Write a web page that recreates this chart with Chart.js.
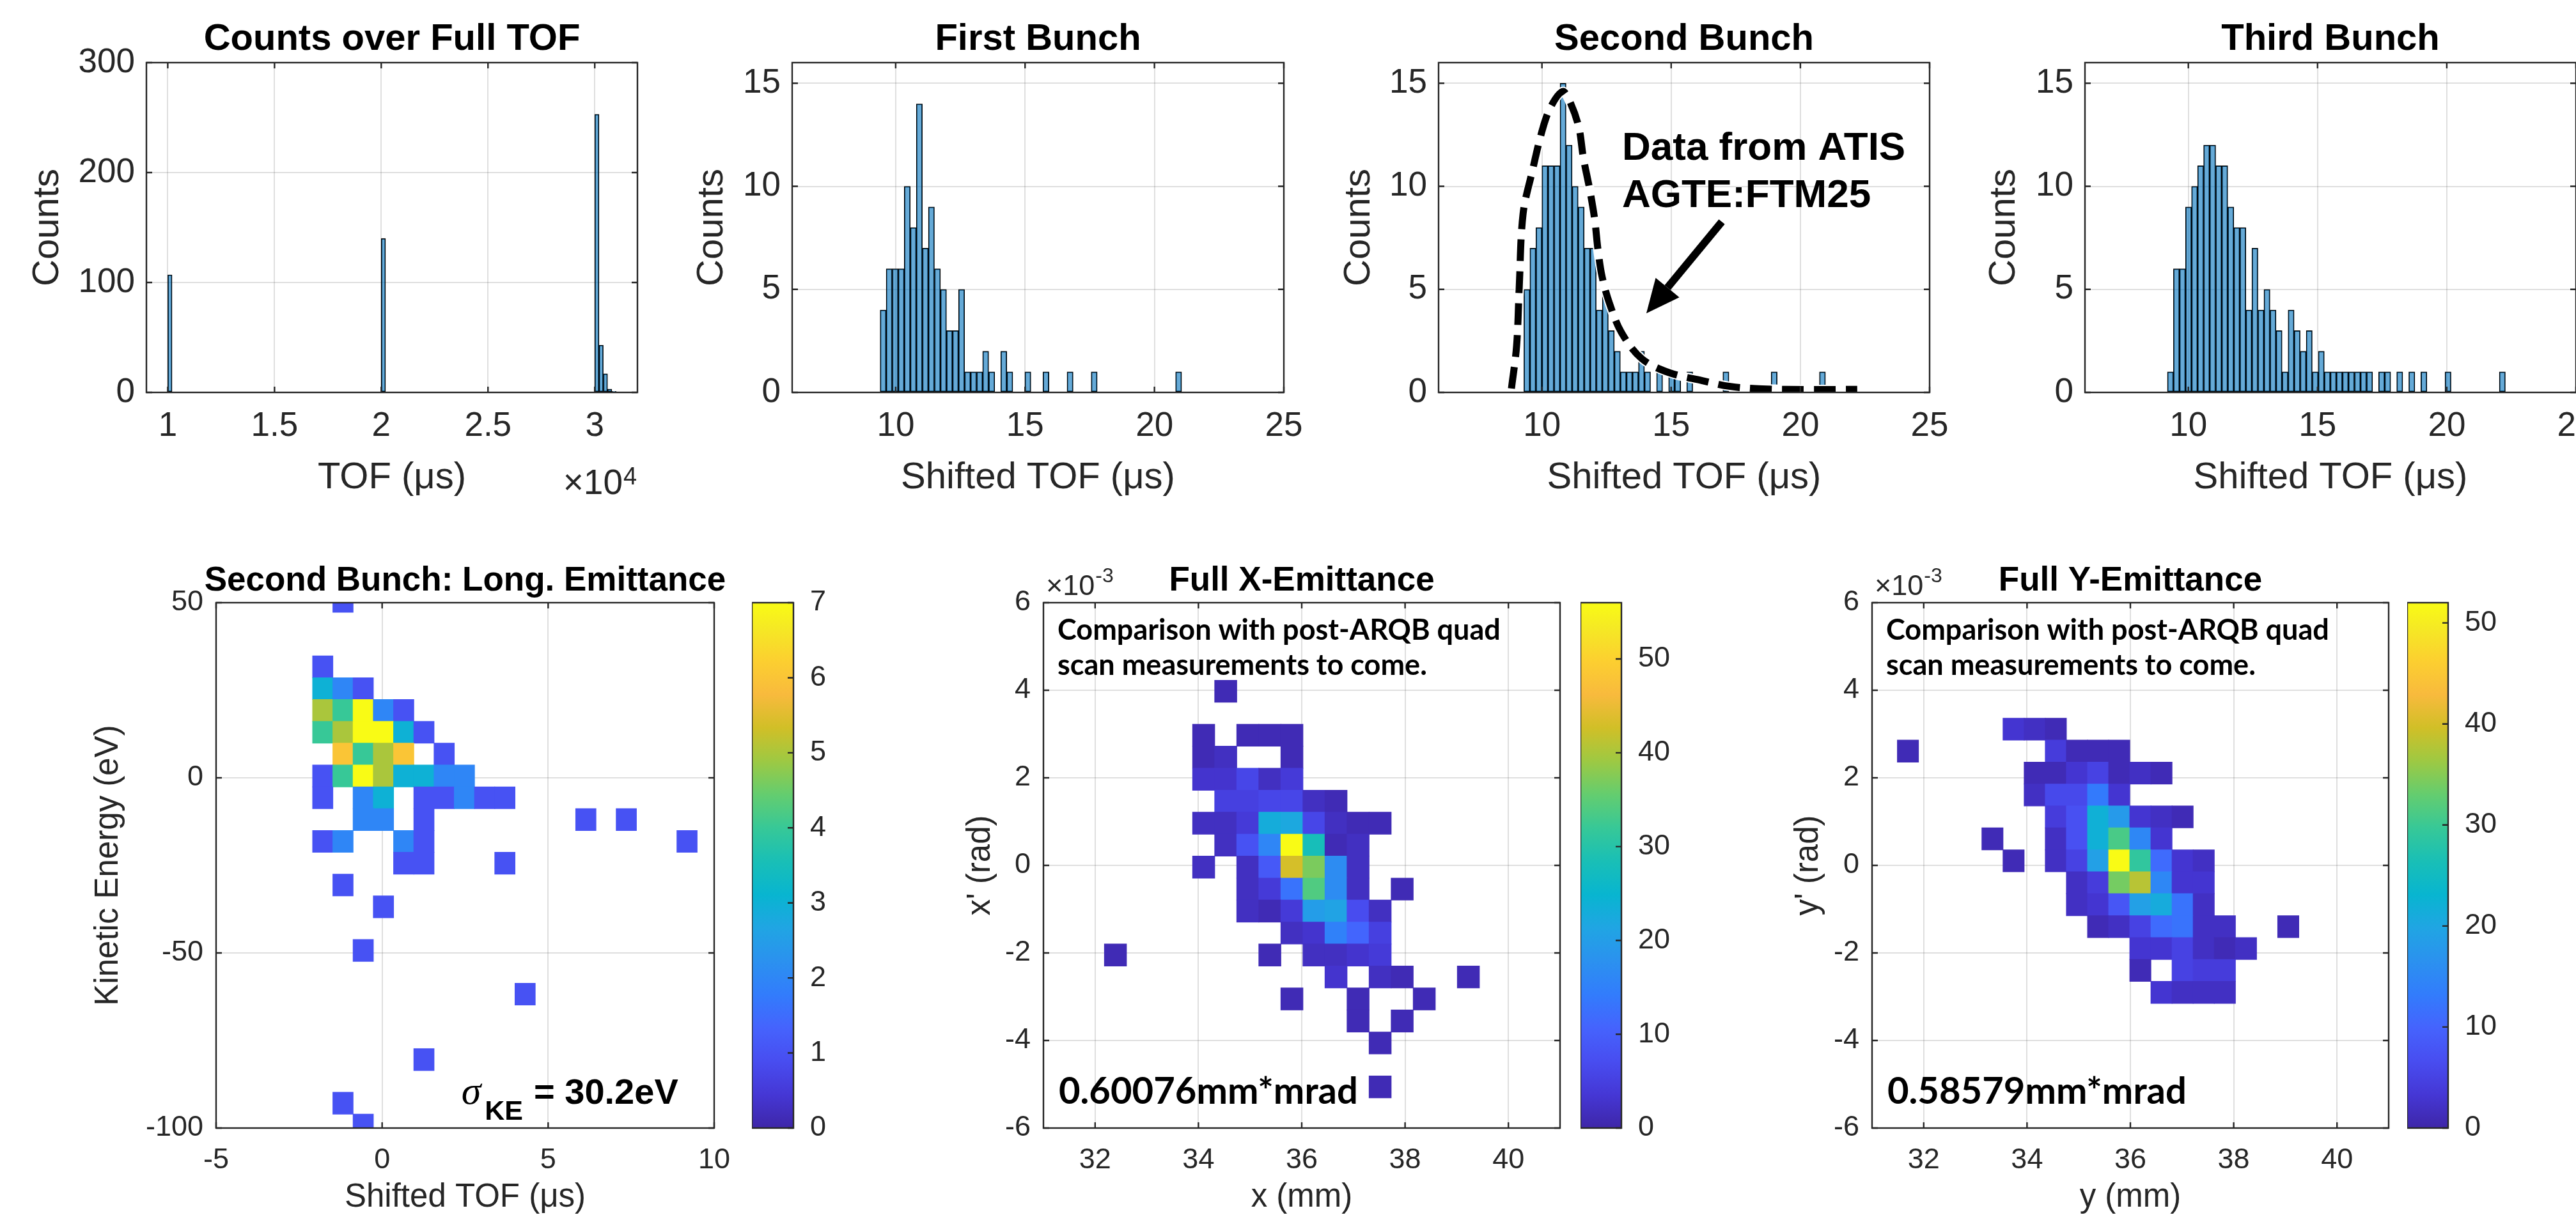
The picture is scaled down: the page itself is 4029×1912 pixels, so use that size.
<!DOCTYPE html>
<html>
<head>
<meta charset="utf-8">
<title>TOF bunches and emittance</title>
<script src="https://cdn.jsdelivr.net/npm/chart.js@4.4.1/dist/chart.umd.min.js"></script>
<style>
  html, body { margin: 0; padding: 0; background: #fff; overflow: hidden; }
  body { position: relative; width: 4029px; height: 1912px; }
  canvas { position: absolute; }
</style>
</head>
<body>
<script>
// ---------- data ----------

// Counts over full TOF (bin centres in µs, 200 µs bins)
const fullTofBins = [10100, 20100, 30100, 30300, 30500, 30700, 30900];
const fullTofCounts = [107, 140, 253, 43, 17, 3, 1];
const fullTofTicks = [10000, 15000, 20000, 25000, 30000];
const fullCountTicks = [0, 100, 200, 300];

// bunch histograms: first bin edge + bin width (µs), counts per bin
const firstBunchStart = 9.40, firstBunchWidth = 0.233;
const firstBunchCounts = [4, 6, 6, 6, 10, 8, 14, 7, 9, 6, 5, 3, 3, 5, 1, 1, 1, 2, 1, 0,
  2, 1, 0, 0, 1, 0, 0, 1, 0, 0, 0, 1, 0, 0, 0, 1, 0, 0, 0, 0, 0, 0, 0, 0, 0, 0, 0, 0, 0, 1];
const secondBunchStart = 9.30, secondBunchWidth = 0.2334;
const secondBunchCounts = [5, 7, 8, 11, 11, 11, 15, 12, 10, 9, 7, 7, 4, 5, 3, 2, 1, 1, 1, 2,
  1, 0, 1, 0, 1, 1, 0, 1, 0, 0, 0, 0, 0, 1, 0, 0, 0, 0, 0, 0, 0, 1, 0, 0, 0, 0, 0, 0, 0, 1];
const thirdBunchStart = 9.19, thirdBunchWidth = 0.2335;
const thirdBunchCounts = [1, 6, 6, 9, 10, 11, 12, 12, 11, 11, 9, 8, 8, 4, 7, 4, 5, 4, 3, 1,
  4, 3, 2, 3, 1, 2, 1, 1, 1, 1, 1, 1, 1, 1, 0, 1, 1, 0, 1, 0, 1, 0, 1, 0, 0, 0, 1, 0, 0, 0,
  0, 0, 0, 0, 0, 1];
const bunchTofTicks = [10, 15, 20, 25];
const bunchCountTicks = [0, 5, 10, 15];

// ATIS AGTE:FTM25 reference profile overlaid on the second bunch
const atisCurveX = [8.82, 9.02, 9.12, 9.27, 9.62, 10.03, 10.36, 10.80, 11.05, 11.42, 11.60, 11.84,
  12.04, 12.17, 12.33, 12.62, 13.08, 13.86, 14.90, 16.18, 17.29, 18.53, 20.40, 22.20];
const atisCurveY = [0.19, 2.27, 5.07, 8.66, 10.7, 12.8, 13.9, 14.6, 14.2, 12.9, 11.4, 9.9,
  8.4, 6.9, 5.6, 4.3, 2.9, 1.64, 0.97, 0.58, 0.29, 0.17, 0.14, 0.15];

// longitudinal emittance, rows from top (KE high) to bottom, columns left to right
const longTof0 = -2.093, longTofStep = 0.6095;
const longKeTop = 53.49, longKeStep = 6.23;
const longEmitCounts = [
  [0,1,0,0,0,0,0,0,0,0,0,0,0,0,0,0,0,0,0,0],
  [0,0,0,0,0,0,0,0,0,0,0,0,0,0,0,0,0,0,0,0],
  [0,0,0,0,0,0,0,0,0,0,0,0,0,0,0,0,0,0,0,0],
  [1,0,0,0,0,0,0,0,0,0,0,0,0,0,0,0,0,0,0,0],
  [3,2,1,0,0,0,0,0,0,0,0,0,0,0,0,0,0,0,0,0],
  [5,4,7,2,1,0,0,0,0,0,0,0,0,0,0,0,0,0,0,0],
  [4,5,7,7,3,1,0,0,0,0,0,0,0,0,0,0,0,0,0,0],
  [0,6,4,5,6,0,1,0,0,0,0,0,0,0,0,0,0,0,0,0],
  [1,4,7,5,3,3,2,2,0,0,0,0,0,0,0,0,0,0,0,0],
  [1,0,2,3,0,1,1,2,1,1,0,0,0,0,0,0,0,0,0,0],
  [0,0,2,2,0,1,0,0,0,0,0,0,0,1,0,1,0,0,0,0],
  [1,2,0,0,2,1,0,0,0,0,0,0,0,0,0,0,0,0,1,0],
  [0,0,0,0,1,1,0,0,0,1,0,0,0,0,0,0,0,0,0,0],
  [0,1,0,0,0,0,0,0,0,0,0,0,0,0,0,0,0,0,0,0],
  [0,0,0,1,0,0,0,0,0,0,0,0,0,0,0,0,0,0,0,0],
  [0,0,0,0,0,0,0,0,0,0,0,0,0,0,0,0,0,0,0,0],
  [0,0,1,0,0,0,0,0,0,0,0,0,0,0,0,0,0,0,0,0],
  [0,0,0,0,0,0,0,0,0,0,0,0,0,0,0,0,0,0,0,0],
  [0,0,0,0,0,0,0,0,0,0,1,0,0,0,0,0,0,0,0,0],
  [0,0,0,0,0,0,0,0,0,0,0,0,0,0,0,0,0,0,0,0],
  [0,0,0,0,0,0,0,0,0,0,0,0,0,0,0,0,0,0,0,0],
  [0,0,0,0,0,1,0,0,0,0,0,0,0,0,0,0,0,0,0,0],
  [0,0,0,0,0,0,0,0,0,0,0,0,0,0,0,0,0,0,0,0],
  [0,1,0,0,0,0,0,0,0,0,0,0,0,0,0,0,0,0,0,0],
  [0,0,1,0,0,0,0,0,0,0,0,0,0,0,0,0,0,0,0,0]
];
const longTofTicks = [-5, 0, 5, 10];
const longKeTicks = [-100, -50, 0, 50];
const longColorTicks = [0, 1, 2, 3, 4, 5, 6, 7];

// full x emittance (x in mm, x' in 1e-3 rad)
const xEmitX0 = 32.18, xEmitXStep = 0.427;
const xEmitTop = 4.227, xEmitStep = 0.502;
const xEmitCounts = [
  [0,0,0,0,0,1,0,0,0,0,0,0,0,0,0,0,0,0],
  [0,0,0,0,0,0,0,0,0,0,0,0,0,0,0,0,0,0],
  [0,0,0,0,1,0,1,1,1,0,0,0,0,0,0,0,0,0],
  [0,0,0,0,1,2,0,0,1,0,0,0,0,0,0,0,0,0],
  [0,0,0,0,3,3,6,2,4,0,0,0,0,0,0,0,0,0],
  [0,0,0,0,0,5,5,6,6,2,1,0,0,0,0,0,0,0],
  [0,0,0,0,2,2,4,23,22,6,2,1,1,0,0,0,0,0],
  [0,0,0,0,0,2,8,16,56,28,1,2,0,0,0,0,0,0],
  [0,0,0,0,2,0,2,9,43,37,17,2,0,0,0,0,0,0],
  [0,0,0,0,0,0,2,4,13,34,17,2,0,1,0,0,0,0],
  [0,0,0,0,0,0,2,1,4,20,21,7,2,0,0,0,0,0],
  [0,0,0,0,0,0,0,0,2,3,15,11,5,0,0,0,0,0],
  [1,0,0,0,0,0,0,1,0,2,2,3,4,0,0,0,0,0],
  [0,0,0,0,0,0,0,0,0,0,3,0,2,1,0,0,1,0],
  [0,0,0,0,0,0,0,0,1,0,0,1,0,0,1,0,0,0],
  [0,0,0,0,0,0,0,0,0,0,0,1,0,1,0,0,0,0],
  [0,0,0,0,0,0,0,0,0,0,0,0,1,0,0,0,0,0],
  [0,0,0,0,0,0,0,0,0,0,0,0,0,0,0,0,0,0],
  [0,0,0,0,0,0,0,0,0,0,0,0,1,0,0,0,0,0]
];

// full y emittance (y in mm, y' in 1e-3 rad)
const yEmitX0 = 31.49, yEmitXStep = 0.409;
const yEmitTop = 3.361, yEmitStep = 0.501;
const yEmitCounts = [
  [0,0,0,0,0,3,2,1,0,0,0,0,0,0,0,0,0,0,0],
  [1,0,0,0,0,0,0,4,1,1,1,0,0,0,0,0,0,0,0],
  [0,0,0,0,0,0,1,1,3,5,1,2,1,0,0,0,0,0,0],
  [0,0,0,0,0,0,2,6,6,13,3,0,0,0,0,0,0,0,0],
  [0,0,0,0,0,0,0,4,7,22,18,3,2,1,0,0,0,0,0],
  [0,0,0,0,1,0,0,2,7,22,31,15,3,0,0,0,0,0,0],
  [0,0,0,0,0,1,0,2,5,19,52,29,11,3,2,0,0,0,0],
  [0,0,0,0,0,0,0,0,2,4,34,38,15,3,3,0,0,0,0],
  [0,0,0,0,0,0,0,0,2,3,8,19,21,12,2,0,0,0,0],
  [0,0,0,0,0,0,0,0,0,1,2,5,11,12,2,2,0,0,1],
  [0,0,0,0,0,0,0,0,0,0,0,3,3,5,2,1,2,0,0],
  [0,0,0,0,0,0,0,0,0,0,0,1,0,5,4,4,0,0,0],
  [0,0,0,0,0,0,0,0,0,0,0,0,3,2,2,2,0,0,0]
];
const emitPosTicks = [32, 34, 36, 38, 40];
const emitAngleTicks = [-6, -4, -2, 0, 2, 4, 6];
const emitColorTicks = [0, 10, 20, 30, 40, 50];

// ---------- look ----------
const FONT = "'Liberation Sans', Arial, Helvetica, sans-serif";
const NOTE_FONT = "Lato, 'Open Sans', sans-serif";
const INK = '#262626';
const GRID = 'rgba(38,38,38,0.15)';
const BAR_FILL = 'rgba(0,114,189,0.6)';

// parula colormap stops
const PARULA = [
  [0.000, 62, 38, 168], [0.0635, 69, 55, 213], [0.127, 72, 77, 240], [0.1905, 69, 99, 253],
  [0.254, 50, 124, 252], [0.3175, 43, 145, 239], [0.381, 32, 165, 227], [0.4444, 8, 181, 208],
  [0.508, 25, 191, 182], [0.5714, 55, 200, 151], [0.635, 100, 205, 111], [0.698, 157, 201, 67],
  [0.762, 209, 191, 39], [0.825, 248, 186, 61], [0.889, 252, 207, 48], [0.952, 245, 233, 36],
  [1.000, 249, 251, 21]
];

function parula(t) {
  t = Math.max(0, Math.min(1, t));
  for (let i = 1; i < PARULA.length; i++) {
    const a = PARULA[i - 1], b = PARULA[i];
    if (t <= b[0]) {
      const f = (t - a[0]) / (b[0] - a[0]);
      const c = [1, 2, 3].map(k => Math.round(a[k] + (b[k] - a[k]) * f));
      return `rgb(${c[0]},${c[1]},${c[2]})`;
    }
  }
  return 'rgb(249,251,21)';
}

const TOP = { canvasTop: 0, canvasBottom: 800, t: 98, b: 614, titleSize: 58, titleY: 62,
  tickSize: 53, labelSize: 58, xLabelY: 748, xTickGap: 27, yTickGap: 18 };
const BOTTOM = { canvasTop: 840, canvasBottom: 1912, t: 943, b: 1765, titleSize: 53, titleY: 909,
  tickSize: 45, labelSize: 51, xLabelY: 1874, xTickGap: 28, yTickGap: 20 };

// ---------- helpers ----------
function place(left, top, width, height) {
  const c = document.createElement('canvas');
  c.width = width; c.height = height;
  c.style.left = left + 'px'; c.style.top = top + 'px';
  c.style.width = width + 'px'; c.style.height = height + 'px';
  document.body.appendChild(c);
  return c;
}

function fixedTicks(values) {
  return scale => { scale.ticks = values.map(v => ({ value: v })); };
}

// MATLAB style box with inward ticks
function matlabBox(colorbarOnly) {
  return {
    id: 'matlabBox',
    afterDatasetsDraw(chart) {
      const { ctx, chartArea: a, scales } = chart;
      const tl = 9;
      ctx.save();
      ctx.strokeStyle = INK;
      ctx.lineWidth = 2.4;
      ctx.beginPath();
      if (!colorbarOnly) {
        scales.x.ticks.forEach(t => {
          const px = scales.x.getPixelForValue(t.value);
          ctx.moveTo(px, a.bottom); ctx.lineTo(px, a.bottom - tl);
          ctx.moveTo(px, a.top); ctx.lineTo(px, a.top + tl);
        });
      }
      scales.y.ticks.forEach(t => {
        const py = scales.y.getPixelForValue(t.value);
        if (!colorbarOnly) { ctx.moveTo(a.left, py); ctx.lineTo(a.left + tl, py); }
        ctx.moveTo(a.right, py); ctx.lineTo(a.right - tl, py);
      });
      ctx.stroke();
      ctx.strokeRect(a.left, a.top, a.right - a.left, a.bottom - a.top);
      ctx.restore();
    }
  };
}

function histogram(centers, counts) {
  return {
    type: 'bar',
    data: counts.map((c, i) => ({ x: centers[i], y: c })),
    backgroundColor: BAR_FILL,
    borderColor: '#000',
    borderWidth: 1.3,
    borderSkipped: false,
    barPercentage: 1,
    categoryPercentage: 1,
    order: 2
  };
}

function binCenters(start, width, counts) {
  return counts.map((_, i) => start + (i + 0.5) * width);
}

function heatmap(counts, x0, dx, yTop, dy) {
  const vmax = Math.max(...counts.flat());
  const data = [], colors = [];
  counts.forEach((row, j) => row.forEach((c, i) => {
    if (!c) return;
    data.push({ x: x0 + (i + 0.5) * dx, y: [yTop - (j + 1) * dy, yTop - j * dy] });
    colors.push(parula(c / vmax));
  }));
  return {
    type: 'bar', data, backgroundColor: colors, borderWidth: 0,
    inflateAmount: 0.5, barPercentage: 1, categoryPercentage: 1
  };
}

function drawTitle(chart, row, text) {
  const { ctx, chartArea: a } = chart;
  ctx.save();
  ctx.font = `bold ${row.titleSize}px ${FONT}`;
  ctx.fillStyle = '#000';
  ctx.textAlign = 'center';
  ctx.textBaseline = 'middle';
  ctx.fillText(text, (a.left + a.right) / 2, row.titleY - row.canvasTop);
  ctx.restore();
}

function panel(row, l, r, yLabelX, cfg) {
  const leftW = 200, rightW = 80;
  const canvas = place(l - leftW, row.canvasTop, leftW + (r - l) + rightW, row.canvasBottom - row.canvasTop);
  const tickFont = { family: FONT, size: row.tickSize, lineHeight: 1 };
  const labelFont = { family: FONT, size: row.labelSize, lineHeight: 1 };
  const grid = { color: GRID, lineWidth: 2, drawTicks: false, offset: false };
  return new Chart(canvas, {
    type: 'bar',
    data: { datasets: cfg.datasets },
    options: {
      responsive: false,
      animation: false,
      devicePixelRatio: 1,
      layout: { padding: { left: 0, top: row.t - row.canvasTop, right: rightW, bottom: 0 } },
      plugins: { legend: { display: false }, tooltip: { enabled: false }, title: { display: false } },
      scales: {
        x: {
          type: 'linear', min: cfg.x[0], max: cfg.x[1], offset: false,
          afterBuildTicks: fixedTicks(cfg.xTicks),
          afterFit: s => { s.height = row.canvasBottom - row.b; },
          grid, border: { display: false },
          ticks: { font: tickFont, color: INK, padding: row.xTickGap, maxRotation: 0, autoSkip: false,
            callback: cfg.xFormat || (v => String(v)) },
          title: { display: true, text: cfg.xLabel, color: INK, font: labelFont,
            padding: { top: 0, bottom: row.canvasBottom - row.xLabelY - row.labelSize / 2 } }
        },
        y: {
          type: 'linear', min: cfg.y[0], max: cfg.y[1],
          afterBuildTicks: fixedTicks(cfg.yTicks),
          afterFit: s => { s.width = leftW; },
          grid, border: { display: false },
          ticks: { font: tickFont, color: INK, padding: row.yTickGap, autoSkip: false, callback: v => String(v) },
          title: { display: true, text: cfg.yLabel, color: INK, font: labelFont,
            padding: { top: yLabelX - (l - leftW) - row.labelSize / 2, bottom: 0 } }
        }
      }
    },
    plugins: [matlabBox(false), {
      id: 'notes',
      afterDraw(chart) {
        drawTitle(chart, row, cfg.title);
        if (cfg.notes) cfg.notes(chart);
      }
    }]
  });
}

function colorbar(l, r, ticks, max) {
  const padV = 60, axisW = 110;
  const canvas = place(l, BOTTOM.t - padV, r - l + axisW, BOTTOM.b - BOTTOM.t + 2 * padV);
  new Chart(canvas, {
    type: 'bar',
    data: {
      labels: [''],
      datasets: [{
        data: [max],
        backgroundColor: c => {
          const a = c.chart.chartArea;
          if (!a) return null;
          const g = c.chart.ctx.createLinearGradient(0, a.bottom, 0, a.top);
          PARULA.forEach(s => g.addColorStop(s[0], `rgb(${s[1]},${s[2]},${s[3]})`));
          return g;
        },
        borderWidth: 0, barPercentage: 1, categoryPercentage: 1
      }]
    },
    options: {
      responsive: false, animation: false, devicePixelRatio: 1,
      layout: { padding: { top: padV, bottom: padV, left: 0, right: 0 } },
      plugins: { legend: { display: false }, tooltip: { enabled: false } },
      scales: {
        x: { display: false },
        y: {
          position: 'right', min: 0, max,
          afterBuildTicks: fixedTicks(ticks),
          afterFit: s => { s.width = axisW; },
          grid: { display: false }, border: { display: false },
          ticks: { font: { family: FONT, size: BOTTOM.tickSize, lineHeight: 1 }, color: INK, padding: 18,
            autoSkip: false, callback: v => String(v) }
        }
      }
    },
    plugins: [matlabBox(true)]
  });
}

function arrow(ctx, x0, y0, x1, y1) {
  const ang = Math.atan2(y1 - y0, x1 - x0), head = 52, half = 24;
  const bx = x1 - head * Math.cos(ang), by = y1 - head * Math.sin(ang);
  ctx.strokeStyle = '#000'; ctx.fillStyle = '#000';
  ctx.lineWidth = 12;
  ctx.beginPath(); ctx.moveTo(x0, y0); ctx.lineTo(bx, by); ctx.stroke();
  ctx.beginPath();
  ctx.moveTo(x1, y1);
  ctx.lineTo(bx + half * Math.sin(ang), by - half * Math.cos(ang));
  ctx.lineTo(bx - half * Math.sin(ang), by + half * Math.cos(ang));
  ctx.closePath(); ctx.fill();
}

function fitSize(ctx, str, family, target) {
  ctx.font = `bold 50px ${family}`;
  return 50 * target / ctx.measureText(str).width;
}

function emittanceNotes(valueText) {
  return chart => {
    const { ctx, chartArea: a } = chart;
    ctx.save();
    ctx.fillStyle = '#000';
    const s1 = fitSize(ctx, 'scan measurements to come.', NOTE_FONT, 578);
    ctx.font = `bold ${s1}px ${NOTE_FONT}`;
    ctx.fillText('Comparison with post-ARQB quad', a.left + 22, a.top + 58);
    ctx.fillText('scan measurements to come.', a.left + 22, a.top + 113);
    const s2 = fitSize(ctx, valueText, NOTE_FONT, 468);
    ctx.font = `bold ${s2}px ${NOTE_FONT}`;
    ctx.fillText(valueText, a.left + 24, a.bottom - 38);
    ctx.fillStyle = INK;
    ctx.font = `45px ${FONT}`;
    ctx.fillText('×10', a.left + 4, a.top - 12);
    const w = ctx.measureText('×10').width;
    ctx.font = `32px ${FONT}`;
    ctx.fillText('-3', a.left + 5 + w, a.top - 32);
    ctx.restore();
  };
}

Chart.defaults.font.family = FONT;

// ---------- top row: TOF histograms ----------
panel(TOP, 229, 997, 75, {
  title: 'Counts over Full TOF',
  xLabel: 'TOF (μs)', yLabel: 'Counts',
  x: [9000, 32000], xTicks: fullTofTicks, xFormat: v => String(v / 1e4),
  y: [0, 300], yTicks: fullCountTicks,
  datasets: [histogram(fullTofBins, fullTofCounts)],
  notes: chart => {
    const { ctx, chartArea: a } = chart;
    ctx.save();
    ctx.fillStyle = INK;
    ctx.font = `55px ${FONT}`;
    ctx.textAlign = 'right';
    ctx.fillText('×10', a.right - 23, a.bottom + 159);
    ctx.textAlign = 'left';
    ctx.font = `38px ${FONT}`;
    ctx.fillText('4', a.right - 22, a.bottom + 144);
    ctx.restore();
  }
});

panel(TOP, 1239, 2008, 1114, {
  title: 'First Bunch',
  xLabel: 'Shifted TOF (μs)', yLabel: 'Counts',
  x: [6, 25], xTicks: bunchTofTicks,
  y: [0, 16], yTicks: bunchCountTicks,
  datasets: [histogram(binCenters(firstBunchStart, firstBunchWidth, firstBunchCounts), firstBunchCounts)]
});

const atisCurve = atisCurveX.map((x, i) => ({ x, y: atisCurveY[i] }));
panel(TOP, 2250, 3018, 2126, {
  title: 'Second Bunch',
  xLabel: 'Shifted TOF (μs)', yLabel: 'Counts',
  x: [6, 25], xTicks: bunchTofTicks,
  y: [0, 16], yTicks: bunchCountTicks,
  datasets: [
    { type: 'line', data: atisCurve, borderColor: '#000', borderWidth: 11, borderDash: [34, 16],
      pointRadius: 0, tension: 0.35, fill: false, order: 0 },
    { type: 'line', data: atisCurve, borderColor: '#fff', borderWidth: 15,
      pointRadius: 0, tension: 0.35, fill: false, order: 1 },
    histogram(binCenters(secondBunchStart, secondBunchWidth, secondBunchCounts), secondBunchCounts)
  ],
  notes: chart => {
    const { ctx, scales: { x, y } } = chart;
    ctx.save();
    ctx.fillStyle = '#000';
    ctx.font = `bold 62px ${FONT}`;
    ctx.fillText('Data from ATIS', x.getPixelForValue(13.10), y.getPixelForValue(11.29));
    ctx.fillText('AGTE:FTM25', x.getPixelForValue(13.10), y.getPixelForValue(8.99));
    arrow(ctx, x.getPixelForValue(16.96), y.getPixelForValue(8.28), x.getPixelForValue(14.04), y.getPixelForValue(3.84));
    ctx.restore();
  }
});

panel(TOP, 3261, 4029, 3135, {
  title: 'Third Bunch',
  xLabel: 'Shifted TOF (μs)', yLabel: 'Counts',
  x: [6, 25], xTicks: bunchTofTicks,
  y: [0, 16], yTicks: bunchCountTicks,
  datasets: [histogram(binCenters(thirdBunchStart, thirdBunchWidth, thirdBunchCounts), thirdBunchCounts)]
});

// ---------- bottom row: emittance maps ----------
panel(BOTTOM, 338, 1117, 170, {
  title: 'Second Bunch: Long. Emittance',
  xLabel: 'Shifted TOF (μs)', yLabel: 'Kinetic Energy (eV)',
  x: [-5, 10], xTicks: longTofTicks,
  y: [-100, 50], yTicks: longKeTicks,
  datasets: [heatmap(longEmitCounts, longTof0, longTofStep, longKeTop, longKeStep)],
  notes: chart => {
    const { ctx, scales: { x, y } } = chart;
    ctx.save();
    ctx.fillStyle = '#000';
    ctx.font = `italic 62px 'Liberation Serif', serif`;
    ctx.fillText('σ', x.getPixelForValue(2.39), y.getPixelForValue(-93.1));
    ctx.font = `bold 43px ${FONT}`;
    ctx.fillText('KE', x.getPixelForValue(3.09), y.getPixelForValue(-97.7));
    ctx.font = `bold 56px ${FONT}`;
    ctx.fillText('= 30.2eV', x.getPixelForValue(4.57), y.getPixelForValue(-93.1));
    ctx.restore();
  }
});
colorbar(1176, 1241, longColorTicks, Math.max(...longEmitCounts.flat()));

panel(BOTTOM, 1632, 2440, 1534, {
  title: 'Full X-Emittance',
  xLabel: 'x (mm)', yLabel: "x' (rad)",
  x: [31, 41], xTicks: emitPosTicks,
  y: [-6, 6], yTicks: emitAngleTicks,
  datasets: [heatmap(xEmitCounts, xEmitX0, xEmitXStep, xEmitTop, xEmitStep)],
  notes: emittanceNotes('0.60076mm*mrad')
});
colorbar(2472, 2536, emitColorTicks, Math.max(...xEmitCounts.flat()));

panel(BOTTOM, 2928, 3736, 2829, {
  title: 'Full Y-Emittance',
  xLabel: 'y (mm)', yLabel: "y' (rad)",
  x: [31, 41], xTicks: emitPosTicks,
  y: [-6, 6], yTicks: emitAngleTicks,
  datasets: [heatmap(yEmitCounts, yEmitX0, yEmitXStep, yEmitTop, yEmitStep)],
  notes: emittanceNotes('0.58579mm*mrad')
});
colorbar(3765, 3829, emitColorTicks, Math.max(...yEmitCounts.flat()));
</script>
</body>
</html>
